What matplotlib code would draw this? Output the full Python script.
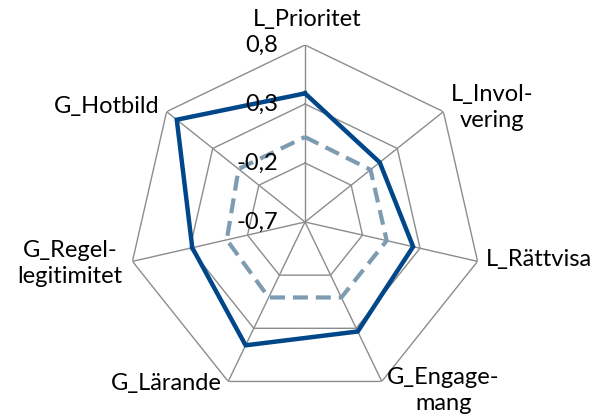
import numpy as np
import matplotlib
matplotlib.use("Agg")
import matplotlib.pyplot as plt

# --- data ---
kategorier = ["L_Prioritet", "L_Invol-\nvering", "L_Rättvisa", "G_Engage-\nmang",
              "G_Lärande", "G_Regel-\nlegitimitet", "G_Hotbild"]
serie_heldragen = [0.39, 0.11, 0.24, 0.33, 0.46, 0.28, 0.69]
serie_streckad = [0.02, 0.01, 0.01, 0.01, 0.01, -0.02, 0.02]
rad_ticks = [-0.7, -0.2, 0.3, 0.8]
rad_ticklabels = ["-0,7", "-0,2", "0,3", "0,8"]

plt.rcParams["font.family"] = ["Lato", "DejaVu Sans"]

n = len(kategorier)
vinklar = np.linspace(0, 2 * np.pi, n, endpoint=False)
vinklar_slutna = np.append(vinklar, vinklar[0])

fig = plt.figure(figsize=(6.01, 4.19), dpi=100)
ax = fig.add_axes([0.213, 0.0477, 0.589, 0.845], projection="polar")
ax.set_theta_zero_location("N")
ax.set_theta_direction(-1)
ax.set_ylim(rad_ticks[0], rad_ticks[-1])
ax.grid(False)
ax.spines["polar"].set_visible(False)
ax.set_xticks([])
ax.set_yticks([])
ax.patch.set_alpha(0)

gridfarg = "#8c8c8c"
for r in rad_ticks[1:]:
    ax.plot(vinklar_slutna, [r] * (n + 1), color=gridfarg, lw=1.0, zorder=1)
for v in vinklar:
    ax.plot([v, v], [rad_ticks[0], rad_ticks[-1]], color=gridfarg, lw=1.0, zorder=1)

ax.plot(vinklar_slutna, serie_streckad + serie_streckad[:1], color="#7d9cb2",
        lw=3.0, dashes=(3.6, 1.9), zorder=3)
ax.plot(vinklar_slutna, serie_heldragen + serie_heldragen[:1], color="#00478a",
        lw=3.2, zorder=4, solid_joinstyle="miter")

# radial tick labels, left of the top spoke
for r, txt in zip(rad_ticks, rad_ticklabels):
    ax.annotate(txt, xy=(0, r), xytext=(-19.5, 0), textcoords="offset points",
                ha="right", va="center", fontsize=17, zorder=5)

# category labels
label_stil = [
    # (offset x, offset y, ha, va)
    (1.5, 18, "center", "center"),
    (35, 2.7, "center", "center"),
    (6, 1, "left", "center"),
    (44.5, -6.3, "center", "center"),
    (-4.3, -1.7, "right", "center"),
    (-45, -1.7, "center", "center"),
    (-4.8, 3.6, "right", "center"),
]
for v, txt, (dx, dy, ha, va) in zip(vinklar, kategorier, label_stil):
    ax.annotate(txt, xy=(v, rad_ticks[-1]), xytext=(dx, dy), textcoords="offset points",
                ha=ha, va=va, fontsize=17, multialignment="center",
                linespacing=1.3, annotation_clip=False)

fig.savefig("out.png", dpi=100)
